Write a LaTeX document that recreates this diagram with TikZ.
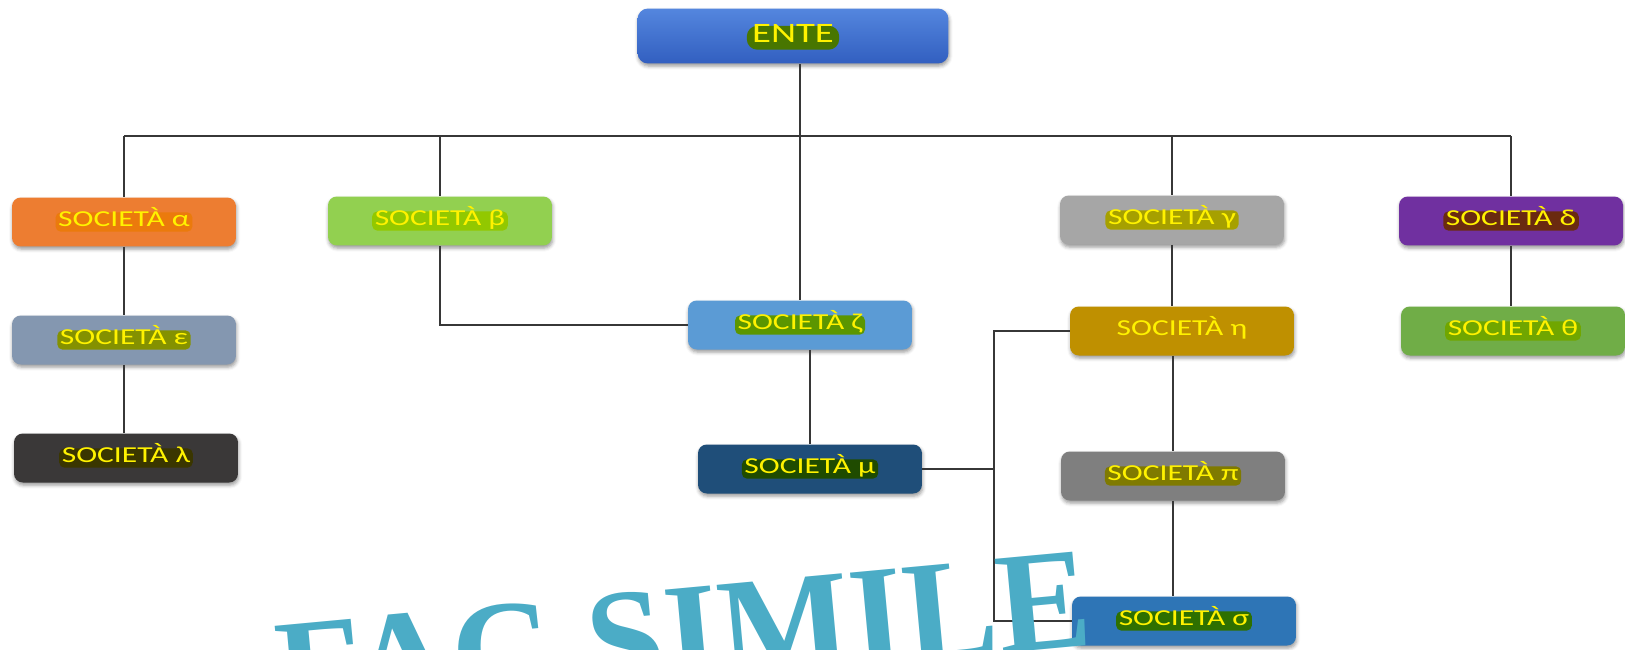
\documentclass[tikz,border=0pt]{standalone}
\usepackage{fontspec}
\setmainfont{Carlito}
\newfontfamily\stampfont{Liberation Serif}
\usetikzlibrary{shadows.blur}
\definecolor{enteTop}{RGB}{84,134,222}
\definecolor{enteBottom}{RGB}{50,95,192}
\definecolor{tagEnte}{RGB}{72,118,0}
\definecolor{boxAlpha}{RGB}{237,125,49}
\definecolor{tagAlpha}{RGB}{235,122,12}
\definecolor{boxBeta}{RGB}{146,208,80}
\definecolor{tagBeta}{RGB}{146,200,0}
\definecolor{boxGamma}{RGB}{166,166,166}
\definecolor{tagGamma}{RGB}{166,160,0}
\definecolor{boxDelta}{RGB}{112,48,160}
\definecolor{tagDelta}{RGB}{106,42,16}
\definecolor{boxEpsilon}{RGB}{132,151,176}
\definecolor{tagEpsilon}{RGB}{132,145,0}
\definecolor{boxLambda}{RGB}{58,56,56}
\definecolor{tagLambda}{RGB}{58,54,0}
\definecolor{boxZeta}{RGB}{91,155,213}
\definecolor{tagZeta}{RGB}{91,150,0}
\definecolor{boxMu}{RGB}{31,78,121}
\definecolor{tagMu}{RGB}{31,75,0}
\definecolor{boxEta}{RGB}{191,144,0}
\definecolor{boxTheta}{RGB}{112,173,71}
\definecolor{tagTheta}{RGB}{112,166,0}
\definecolor{boxPi}{RGB}{127,127,127}
\definecolor{tagPi}{RGB}{127,122,0}
\definecolor{boxSigma}{RGB}{46,117,182}
\definecolor{tagSigma}{RGB}{46,112,0}
\definecolor{stampBlue}{RGB}{75,172,198}
\definecolor{linkGray}{RGB}{55,55,55}
\newcommand{\widen}[1]{\scalebox{1.38}[1]{#1}}
\tikzset{
    company-box/.style = {fill=#1, rectangle, rounded corners=5pt, minimum width=4.48cm, minimum height=0.98cm, inner sep=0pt, blur shadow={shadow xshift=0.4pt, shadow yshift=-1.5pt, shadow blur radius=2pt, shadow opacity=40}},
    company-tag/.style = {fill=#1, text=yellow, rounded corners=3pt, inner xsep=1.5pt, inner ysep=1.2pt, text height=0.7em, text depth=0.16em, font=\fontsize{13}{15}\selectfont},
    ente-box/.style = {top color=enteTop, bottom color=enteBottom, rectangle, rounded corners=6pt, minimum width=6.22cm, minimum height=1.1cm, inner sep=0pt, blur shadow={shadow xshift=0.4pt, shadow yshift=-1.5pt, shadow blur radius=2pt, shadow opacity=40}},
    ente-tag/.style = {company-tag=tagEnte, rounded corners=6pt, inner xsep=3pt, inner ysep=2.5pt, font=\fontsize{16}{18}\selectfont},
    link/.style = {draw=linkGray, line width=0.6pt},
    stamp/.style = {text=stampBlue, font=\stampfont\bfseries\fontsize{82}{84}\selectfont, rotate=5.3, anchor=base, inner sep=0pt},
}
\begin{document}
\begin{tikzpicture}[x=0.02cm, y=-0.02cm]
\useasboundingbox (0,0) rectangle (1625,649);
\clip (0,0) rectangle (1625,649);

\node[ente-box] (ente) at (793,36) {};
\node[ente-tag] (ente-label) at ([yshift=-1pt]ente.center) {\widen{ENTE}};

\node[company-box=boxAlpha] (alpha) at (124,222) {};
\node[company-tag=tagAlpha] (alpha-label) at (alpha) {\widen{SOCIETÀ α}};
\node[company-box=boxBeta] (beta) at (440,221) {};
\node[company-tag=tagBeta] (beta-label) at (beta) {\widen{SOCIETÀ β}};
\node[company-box=boxGamma] (gamma) at (1172,220) {};
\node[company-tag=tagGamma] (gamma-label) at (gamma) {\widen{SOCIETÀ γ}};
\node[company-box=boxDelta] (delta) at (1511,221) {};
\node[company-tag=tagDelta] (delta-label) at (delta) {\widen{SOCIETÀ δ}};

\node[company-box=boxEpsilon] (epsilon) at (124,340) {};
\node[company-tag=tagEpsilon] (epsilon-label) at (epsilon) {\widen{SOCIETÀ ε}};
\node[company-box=boxLambda] (lambda) at (126,458) {};
\node[company-tag=tagLambda] (lambda-label) at (lambda) {\widen{SOCIETÀ λ}};

\node[company-box=boxZeta] (zeta) at (800,325) {};
\node[company-tag=tagZeta] (zeta-label) at (zeta) {\widen{SOCIETÀ ζ}};
\node[company-box=boxMu] (mu) at (810,469) {};
\node[company-tag=tagMu] (mu-label) at (mu) {\widen{SOCIETÀ μ}};

\node[company-box=boxEta] (eta) at (1182,331) {};
\node[company-tag=boxEta] (eta-label) at (eta) {\widen{SOCIETÀ η}};
\node[company-box=boxTheta] (theta) at (1513,331) {};
\node[company-tag=tagTheta] (theta-label) at (theta) {\widen{SOCIETÀ θ}};
\node[company-box=boxPi] (pi) at (1173,476) {};
\node[company-tag=tagPi] (pi-label) at (pi) {\widen{SOCIETÀ π}};
\node[company-box=boxSigma] (sigma) at (1184,621) {};
\node[company-tag=tagSigma] (sigma-label) at (sigma) {\widen{SOCIETÀ σ}};

\coordinate (bus) at (800,136);
\coordinate (joint) at (994,469);

\draw[link] (ente.south -| zeta.north) -- (zeta.north);
\draw[link] (alpha.north |- bus) -- (delta.north |- bus);
\draw[link] (alpha.north |- bus) -- (alpha.north);
\draw[link] (beta.north |- bus) -- (beta.north);
\draw[link] (gamma.north |- bus) -- (gamma.north);
\draw[link] (delta.north |- bus) -- (delta.north);
\draw[link] (alpha.south) -- (epsilon.north);
\draw[link] (epsilon.south) -- (epsilon.south |- lambda.north);
\draw[link] (beta.south) |- (zeta.west);
\draw[link] (zeta.south -| mu.north) -- (mu.north);
\draw[link] (gamma.south) -- (gamma.south |- eta.north);
\draw[link] (delta.south) -- (delta.south |- theta.north);
\draw[link] (eta.south -| pi.north) -- (pi.north);
\draw[link] (pi.south) -- (pi.south |- sigma.north);
\draw[link] (eta.west) -| (joint) |- (sigma.west);
\draw[link] (mu.east) -- (joint);

\node[stamp] (fac-simile) at (688,683) {\scalebox{0.97}[1]{FAC SIMILE}};
\end{tikzpicture}
\end{document}
